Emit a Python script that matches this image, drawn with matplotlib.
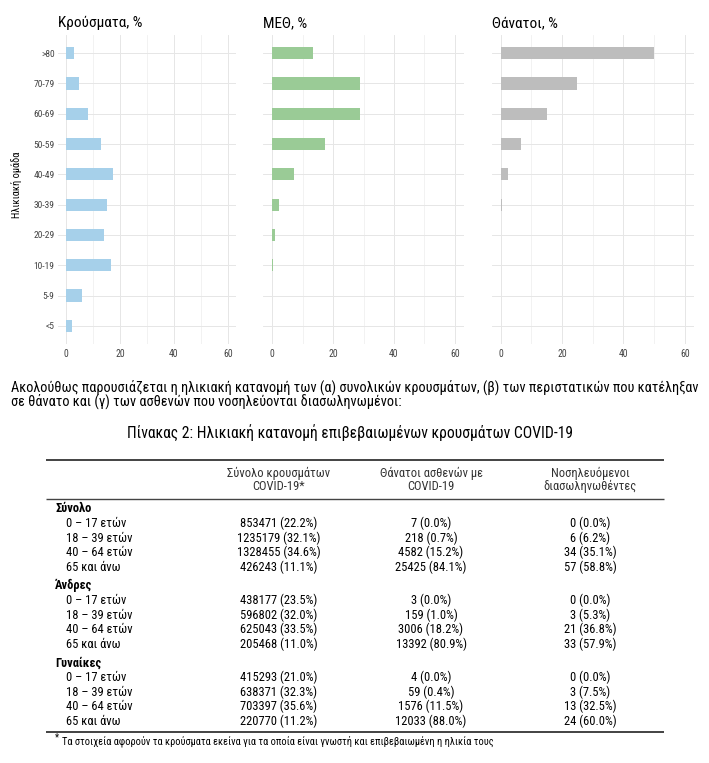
import matplotlib
matplotlib.use("Agg")
import matplotlib.pyplot as plt
from matplotlib.ticker import MultipleLocator

W, H = 709, 763

# bar chart data (percent of each age group)
age_groups = ["<5", "5-9", "10-19", "20-29", "30-39", "40-49", "50-59", "60-69", "70-79", ">80"]
cases_pct = [2.3, 6.0, 16.7, 14.2, 15.1, 17.3, 12.8, 8.0, 4.7, 3.0]
icu_pct = [0.1, 0.0, 0.2, 0.9, 2.3, 7.2, 17.3, 29.0, 29.0, 13.5]
deaths_pct = [0.0, 0.0, 0.0, 0.1, 0.5, 2.3, 6.7, 15.2, 24.9, 50.1]

panel_titles = ["Κρούσματα, %", "ΜΕΘ, %", "Θάνατοι, %"]
panel_colors = ["#a6d0ea", "#9acb96", "#bdbdbd"]

# table data
table_groups = ["Σύνολο", "Άνδρες", "Γυναίκες"]
table_ages = ["0 – 17 ετών", "18 – 39 ετών", "40 – 64 ετών", "65 και άνω"]
cases_tbl = [[853471, 1235179, 1328455, 426243],
             [438177, 596802, 625043, 205468],
             [415293, 638371, 703397, 220770]]
cases_share = [[22.2, 32.1, 34.6, 11.1],
               [23.5, 32.0, 33.5, 11.0],
               [21.0, 32.3, 35.6, 11.2]]
deaths_tbl = [[7, 218, 4582, 25425],
              [3, 159, 3006, 13392],
              [4, 59, 1576, 12033]]
deaths_share = [[0.0, 0.7, 15.2, 84.1],
                [0.0, 1.0, 18.2, 80.9],
                [0.0, 0.4, 11.5, 88.0]]
icu_tbl = [[0, 6, 34, 57],
           [0, 3, 21, 33],
           [0, 3, 13, 24]]
icu_share = [[0.0, 6.2, 35.1, 58.8],
             [0.0, 5.3, 36.8, 57.9],
             [0.0, 7.5, 32.5, 60.0]]
col_headers = [("Σύνολο κρουσμάτων", "COVID-19*"),
               ("Θάνατοι ασθενών με", "COVID-19"),
               ("Νοσηλευόμενοι", "διασωληνωθέντες")]

intro_lines = [
    "Ακολούθως παρουσιάζεται η ηλικιακή κατανομή των (α) συνολικών κρουσμάτων, (β) των περιστατικών που κατέληξαν",
    "σε θάνατο και (γ) των ασθενών που νοσηλεύονται διασωληνωμένοι:",
]
table_title = "Πίνακας 2: Ηλικιακή κατανομή επιβεβαιωμένων κρουσμάτων COVID-19"
footnote = "Τα στοιχεία αφορούν τα κρούσματα εκείνα για τα οποία είναι γνωστή και επιβεβαιωμένη η ηλικία τους"

COND = dict(family=["Roboto Condensed", "DejaVu Sans"], stretch="condensed")


def frac(left, top, right, bottom):
    """pixel box -> figure fraction rect"""
    return [left / W, 1 - bottom / H, (right - left) / W, (bottom - top) / H]


def fit_width(t, target, renderer):
    w = t.get_window_extent(renderer).width
    t.set_fontsize(t.get_fontsize() * target / w)


fig = plt.figure(figsize=(W / 100, H / 100), dpi=100)
fig.patch.set_facecolor("white")
renderer = fig.canvas.get_renderer()

# ---- the three bar panels ----
panel_x = [(58, 236), (263, 464), (491.5, 694)]
series = [cases_pct, icu_pct, deaths_pct]
ypos = list(range(len(age_groups)))

for i, (vals, (x0, x1)) in enumerate(zip(series, panel_x)):
    ax = fig.add_axes(frac(x0, 35, x1, 344))
    ax.set_facecolor("none")
    ax.barh(ypos, vals, height=0.4, color=panel_colors[i], zorder=3)
    ax.set_xlim(-3, 63)
    ax.set_ylim(-0.6, len(age_groups) - 0.4)
    ax.xaxis.set_major_locator(MultipleLocator(20))
    ax.xaxis.set_minor_locator(MultipleLocator(10))
    ax.set_yticks(ypos)
    ax.grid(which="major", color="#e6e6e6", lw=0.7, zorder=0)
    ax.grid(which="minor", axis="x", color="#f0f0f0", lw=0.6, zorder=0)
    for s in ax.spines.values():
        s.set_visible(False)
    ax.tick_params(which="both", length=0, labelsize=7, labelcolor="#444444")
    ax.tick_params(axis="y", pad=2.5)
    for lab in ax.get_xticklabels():
        lab.set(**COND)
    if i == 0:
        ax.set_yticklabels(age_groups, fontsize=6.8, **COND)
        ax.set_ylabel("Ηλικιακή ομάδα", fontsize=7.5, **COND)
        ax.yaxis.set_label_coords(-36 / 178, 0.515)
    else:
        ax.set_yticklabels([])
    ax.text(0, 1.0 + 12 / 309, panel_titles[i], transform=ax.transAxes,
            ha="left", va="center", fontsize=11, **COND)

# ---- text and table in pixel coordinates ----
tx = fig.add_axes([0, 0, 1, 1], zorder=-1)
tx.set_xlim(0, W)
tx.set_ylim(H, 0)
tx.axis("off")

intro_size = None
for line, y in zip(intro_lines, [387, 401]):
    t = tx.text(11, y, line, ha="left", va="center", fontsize=9, **COND)
    if intro_size is None:
        fit_width(t, 684, renderer)
        intro_size = t.get_fontsize()
    else:
        t.set_fontsize(intro_size)

t = tx.text(350, 433, table_title, ha="center", va="center", fontsize=11, **COND)
fit_width(t, 446, renderer)

tx.hlines(460, 46, 664, color="#222222", lw=1.2)
tx.hlines(499, 46, 664, color="#444444", lw=1.0)
tx.hlines(731.5, 46, 664, color="#222222", lw=1.2)

BODY = 9
col_x = [279, 431, 590]
for cx, (h1, h2) in zip(col_x, col_headers):
    tx.text(cx, 473, h1, ha="center", va="center", fontsize=BODY, color="#333333", **COND)
    tx.text(cx, 486, h2, ha="center", va="center", fontsize=BODY, color="#333333", **COND)

row_step = 14.6
y = 509
for g, grp in enumerate(table_groups):
    tx.text(55, y, grp, ha="left", va="center", fontsize=BODY, weight="bold", **COND)
    for r, age in enumerate(table_ages):
        y += row_step
        tx.text(66, y, age, ha="left", va="center", fontsize=BODY, **COND)
        cells = [f"{cases_tbl[g][r]} ({cases_share[g][r]:.1f}%)",
                 f"{deaths_tbl[g][r]} ({deaths_share[g][r]:.1f}%)",
                 f"{icu_tbl[g][r]} ({icu_share[g][r]:.1f}%)"]
        for cx, c in zip(col_x, cells):
            tx.text(cx, y, c, ha="center", va="center", fontsize=BODY, **COND)
    y += 18.5

tx.text(55, 737.5, "*", ha="left", va="center", fontsize=7, **COND)
t = tx.text(62, 741.5, footnote, ha="left", va="center", fontsize=9, **COND)
fit_width(t, 431, renderer)

fig.savefig("out.png", dpi=100, facecolor="white")
